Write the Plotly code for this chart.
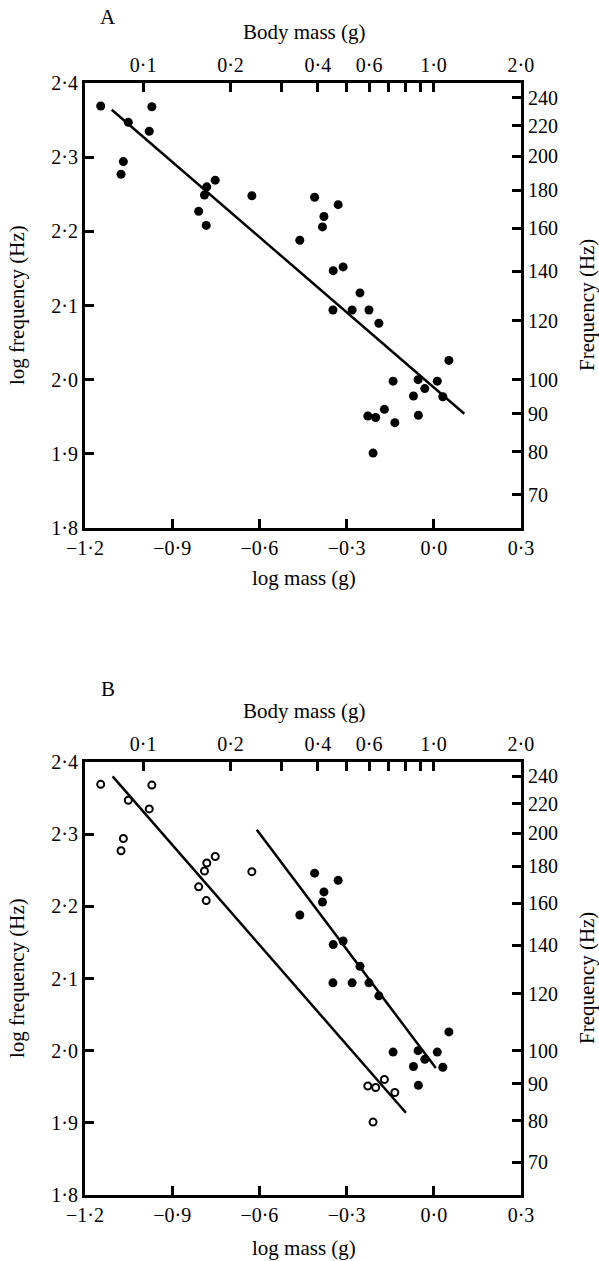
import plotly.graph_objects as go

# ---------------- data ----------------
log_mass = [-1.146, -1.051, -0.970, -0.979, -1.068, -1.076, -0.752, -0.781, -0.789, -0.809,
            -0.783, -0.626, -0.410, -0.329, -0.378, -0.383, -0.461, -0.346, -0.312, -0.254,
            -0.347, -0.281, -0.223, -0.189, 0.052, -0.140, -0.054, 0.012, -0.031, -0.070,
            0.031, -0.170, -0.227, -0.200, -0.134, -0.053, -0.209]
log_freq = [2.369, 2.347, 2.368, 2.335, 2.294, 2.277, 2.269, 2.260, 2.249, 2.227,
            2.208, 2.248, 2.246, 2.236, 2.220, 2.206, 2.188, 2.147, 2.152, 2.117,
            2.094, 2.094, 2.094, 2.076, 2.026, 1.998, 2.000, 1.998, 1.988, 1.978,
            1.977, 1.960, 1.951, 1.949, 1.942, 1.952, 1.901]
# symbol used for each point in panel B (open / filled)
group_B = ["open"] * 12 + ["filled"] * 19 + ["open"] * 4 + ["filled"] + ["open"]

# regression lines (end points)
lineA_x = [-1.108, 0.105]
lineA_y = [2.364, 1.954]
lineB_open_x = [-1.105, -0.096]
lineB_open_y = [2.380, 1.914]
lineB_filled_x = [-0.609, 0.007]
lineB_filled_y = [2.306, 1.976]

# axis ticks
x_ticks = [-1.2, -0.9, -0.6, -0.3, 0.0, 0.3]
x_labels = ["\u22121\u00b72", "\u22120\u00b79", "\u22120\u00b76", "\u22120\u00b73", "0\u00b70", "0\u00b73"]
y_ticks = [1.8, 1.9, 2.0, 2.1, 2.2, 2.3, 2.4]
y_labels = ["1\u00b78", "1\u00b79", "2\u00b70", "2\u00b71", "2\u00b72", "2\u00b73", "2\u00b74"]
mass_ticks = [0.1, 0.2, 0.3, 0.4, 0.5, 0.6, 0.7, 0.8, 0.9, 1.0, 2.0]
mass_labels = ["0\u00b71", "0\u00b72", "", "0\u00b74", "", "0\u00b76", "", "", "", "1\u00b70", "2\u00b70"]
freq_ticks = [70, 80, 90, 100, 120, 140, 160, 180, 200, 220, 240]
freq_labels = [str(v) for v in freq_ticks]

# ---------------- layout geometry ----------------
W, H = 599, 1261
L, R, T, B = 85, 78, 83, 66
PW, PH = W - L - R, H - T - B


def px(x):
    return (x - L) / PW


def py(y):
    return (H - B - y) / PH


domA = [py(528), 1.0]
domB = [0.0, py(762)]

FONT = "Liberation Serif"
tickfont = dict(family=FONT, size=20, color="black")

fig = go.Figure()

# Panel A
fig.add_trace(go.Scatter(x=log_mass, y=log_freq, mode="markers", xaxis="x", yaxis="y",
                         marker=dict(symbol="circle", size=9, color="black"), showlegend=False))
fig.add_trace(go.Scatter(x=lineA_x, y=lineA_y, mode="lines", xaxis="x", yaxis="y",
                         line=dict(color="black", width=2.5), showlegend=False))

# Panel B
bx_o = [m for m, g in zip(log_mass, group_B) if g == "open"]
by_o = [f for f, g in zip(log_freq, group_B) if g == "open"]
bx_f = [m for m, g in zip(log_mass, group_B) if g == "filled"]
by_f = [f for f, g in zip(log_freq, group_B) if g == "filled"]
fig.add_trace(go.Scatter(x=bx_o, y=by_o, mode="markers", xaxis="x2", yaxis="y2",
                         marker=dict(symbol="circle-open", size=7, color="black",
                                     line=dict(width=2, color="black")), showlegend=False))
fig.add_trace(go.Scatter(x=bx_f, y=by_f, mode="markers", xaxis="x2", yaxis="y2",
                         marker=dict(symbol="circle", size=9, color="black"), showlegend=False))
fig.add_trace(go.Scatter(x=lineB_open_x, y=lineB_open_y, mode="lines", xaxis="x2", yaxis="y2",
                         line=dict(color="black", width=2.5), showlegend=False))
fig.add_trace(go.Scatter(x=lineB_filled_x, y=lineB_filled_y, mode="lines", xaxis="x2", yaxis="y2",
                         line=dict(color="black", width=2.5), showlegend=False))

common = dict(showline=True, linecolor="black", linewidth=3, ticks="inside", ticklen=9,
              tickwidth=2.5, tickcolor="black", showgrid=False, zeroline=False,
              tickfont=tickfont, tickmode="array")

top_range = [-1.2, 0.3012]

fig.update_layout(
    width=W, height=H, margin=dict(l=L, r=R, t=T, b=B),
    paper_bgcolor="white", plot_bgcolor="white",
    xaxis=dict(domain=[0, 1], anchor="y", range=[-1.2, 0.3], tickvals=x_ticks, ticktext=x_labels, **common),
    yaxis=dict(domain=domA, anchor="x", range=[1.8, 2.4], tickvals=y_ticks, ticktext=y_labels, **common),
    xaxis3=dict(overlaying="x", anchor="y", side="top", type="log", range=top_range,
                tickvals=mass_ticks, ticktext=mass_labels, **common),
    yaxis3=dict(overlaying="y", anchor="x", side="right", type="log", range=[1.8, 2.4],
                tickvals=freq_ticks, ticktext=freq_labels, **common),
    xaxis2=dict(domain=[0, 1], anchor="y2", range=[-1.2, 0.3], tickvals=x_ticks, ticktext=x_labels, **common),
    yaxis2=dict(domain=domB, anchor="x2", range=[1.8, 2.4], tickvals=y_ticks, ticktext=y_labels, **common),
    xaxis4=dict(overlaying="x2", anchor="y2", side="top", type="log", range=top_range,
                tickvals=mass_ticks, ticktext=mass_labels, **common),
    yaxis4=dict(overlaying="y2", anchor="x2", side="right", type="log", range=[1.8, 2.4],
                tickvals=freq_ticks, ticktext=freq_labels, **common),
)

# invisible traces so the overlay axes are drawn
for xa, ya in [("x3", "y3"), ("x4", "y4")]:
    fig.add_trace(go.Scatter(x=[None], y=[None], xaxis=xa, yaxis=ya, mode="markers",
                             showlegend=False, hoverinfo="skip"))

tfont = dict(family=FONT, size=21, color="black")


def ann(text, x, y, angle=0):
    fig.add_annotation(text=text, x=px(x), y=py(y), xref="paper", yref="paper",
                       showarrow=False, xanchor="center", yanchor="middle",
                       textangle=angle, font=tfont)


ann("A", 108, 17)
ann("B", 108, 689)
ann("Body mass (g)", 304, 32)
ann("Body mass (g)", 304, 711)
ann("log mass (g)", 304, 578)
ann("log mass (g)", 304, 1248)
ann("log frequency (Hz)", 17, 305, -90)
ann("log frequency (Hz)", 17, 978, -90)
ann("Frequency (Hz)", 587, 305, -90)
ann("Frequency (Hz)", 587, 978, -90)

fig.write_html("out.html")
